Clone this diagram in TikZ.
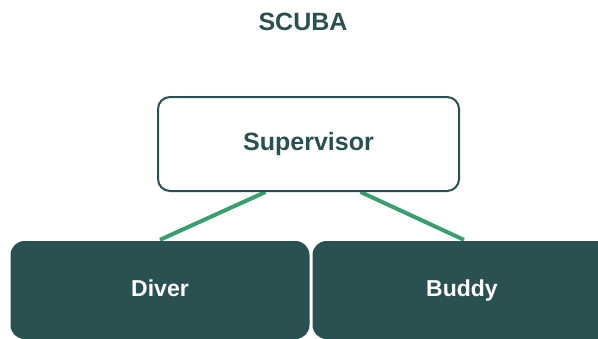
\documentclass[tikz,border=0pt]{standalone}
\usepackage{fontspec}
\setmainfont{Liberation Sans}
\usetikzlibrary{backgrounds}
\definecolor{teal}{HTML}{2A5152}
\definecolor{lgreen}{HTML}{3A9E6F}
\begin{document}
\begin{tikzpicture}[x=1pt,y=-1pt,
  big/.style={font=\bfseries\fontsize{25}{29}\selectfont},
  small/.style={font=\bfseries\fontsize{23}{27}\selectfont},
  supbox/.style={draw=teal,line width=2pt,rounded corners=12pt,fill=white,
    minimum width=301pt,minimum height=94pt,inner sep=0pt,text=teal},
  kidbox/.style={fill=teal,rounded corners=14pt,minimum width=299pt,
    minimum height=98pt,inner sep=0pt,text=white,text height=17pt,text depth=5pt},
  link/.style={draw=lgreen,line width=4pt}]
\useasboundingbox (0,0) rectangle (598,338);
\node[big,text=teal] (title) at (303,22) {SCUBA};
\node[supbox,big] (sup) at (308.5,144) {Supervisor};
\node[kidbox,small] (diver) at (160,290) {Diver};
\node[kidbox,small] (buddy) at (462,290) {Buddy};
\coordinate (sl) at ([xshift=-43pt]sup.south);
\coordinate (sr) at ([xshift=52pt]sup.south);
\begin{scope}[on background layer]
\draw[link] (sl) -- ([yshift=1pt]diver.north);
\draw[link] (sr) -- ([xshift=2pt,yshift=1pt]buddy.north);
\end{scope}
\end{tikzpicture}
\end{document}
